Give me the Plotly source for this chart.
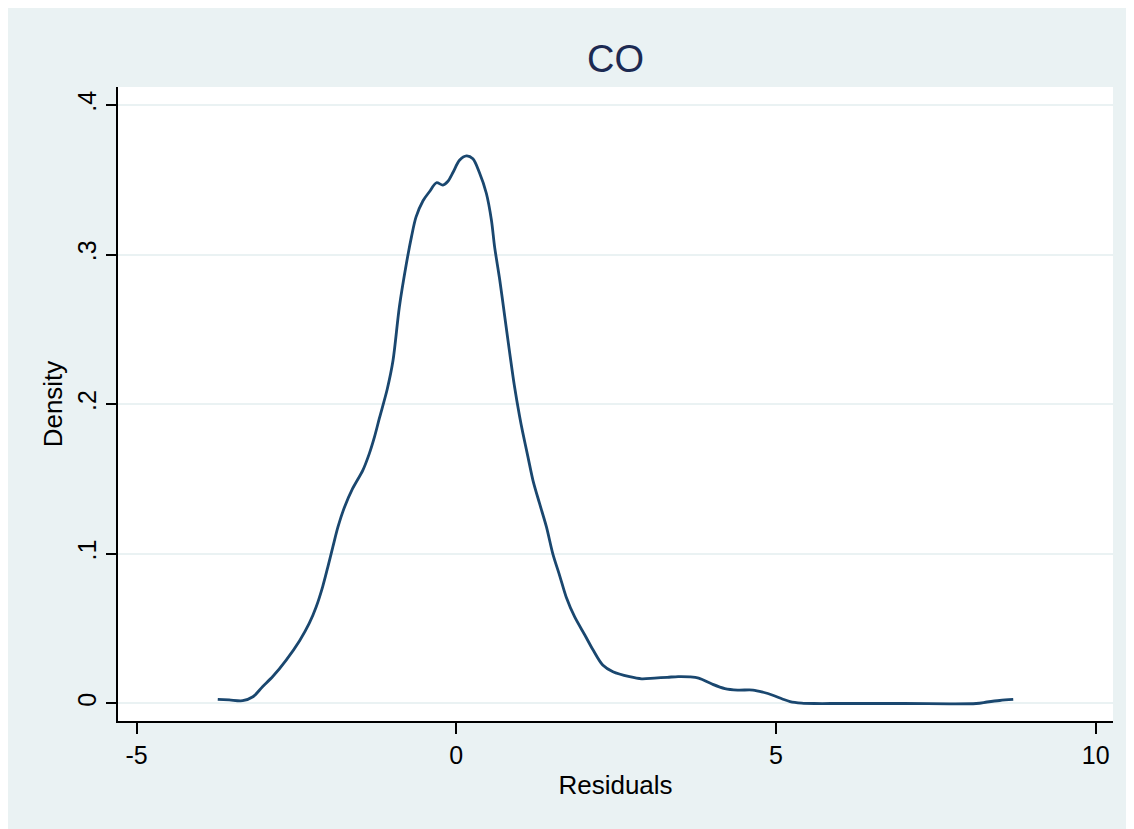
import plotly.graph_objects as go

# Kernel density of residuals
residuals = [-3.73, -3.55, -3.34, -3.18, -3.03, -2.87, -2.66, -2.45, -2.30, -2.19,
             -2.09, -2.01, -1.93, -1.85, -1.75, -1.62, -1.46, -1.36, -1.28, -1.20,
             -1.08, -0.99, -0.89, -0.78, -0.70, -0.63, -0.52, -0.42, -0.31, -0.21,
             -0.13, -0.05, 0.05, 0.16, 0.26, 0.36, 0.47, 0.55, 0.60, 0.68,
             0.76, 0.83, 0.91, 0.99, 1.04, 1.12, 1.20, 1.30, 1.41, 1.51,
             1.62, 1.72, 1.85, 2.01, 2.14, 2.29, 2.45, 2.71, 2.90, 3.10,
             3.30, 3.47, 3.65, 3.79, 4.00, 4.20, 4.40, 4.64, 4.80, 4.95,
             5.10, 5.22, 5.40, 5.60, 6.00, 7.00, 8.13, 8.30, 8.50, 8.71]
density = [0.0028, 0.0024, 0.0019, 0.0045, 0.0112, 0.018, 0.029, 0.042, 0.0535, 0.0647,
           0.078, 0.091, 0.1047, 0.118, 0.131, 0.1437, 0.156, 0.167, 0.178, 0.191,
           0.210, 0.229, 0.265, 0.294, 0.312, 0.325, 0.336, 0.342, 0.348, 0.3465,
           0.349, 0.355, 0.363, 0.366, 0.364, 0.355, 0.341, 0.323, 0.305, 0.283,
           0.258, 0.236, 0.212, 0.192, 0.181, 0.165, 0.149, 0.134, 0.118, 0.100,
           0.085, 0.071, 0.058, 0.0458, 0.0357, 0.0257, 0.0212, 0.0179, 0.0165, 0.017,
           0.0175, 0.018, 0.0178, 0.017, 0.013, 0.010, 0.009, 0.009, 0.0075, 0.0055,
           0.003, 0.0013, 0.0003, 0.0, 0.0, 0.0, 0.0, 0.001, 0.002, 0.0027]

x_ticks = [-5, 0, 5, 10]
x_tick_labels = ["-5", "0", "5", "10"]
y_ticks = [0, 0.1, 0.2, 0.3, 0.4]
y_tick_labels = ["0", ".1", ".2", ".3", ".4"]

BG = "#eaf2f3"
NAVY = "#1a476f"
FONT = "Liberation Sans, Arial, Helvetica, sans-serif"

# page body has an 8px margin, so the figure is drawn 8px in from the top-left
W, H = 1126, 821
L, R, T, B = 110, 1105, 79, 713

fig = go.Figure()
fig.add_trace(go.Scatter(
    x=residuals, y=density, mode="lines",
    line=dict(color=NAVY, width=2.8, shape="spline", smoothing=0.85),
    hoverinfo="x+y", showlegend=False,
))

fig.update_layout(
    width=W, height=H,
    margin=dict(l=L, r=W - R, t=T, b=H - B, pad=0),
    paper_bgcolor=BG, plot_bgcolor="white",
    font=dict(family=FONT, color="black", size=25),
    title=dict(text="CO", x=(L + R) / 2 / W, xref="container", xanchor="center",
               y=1 - 51 / H, yref="container", yanchor="middle",
               font=dict(family=FONT, size=38, color="#1c2a52")),
    showlegend=False,
)

fig.update_xaxes(
    range=[-5.29, 10.27], tickvals=x_ticks, ticktext=x_tick_labels,
    showgrid=False, zeroline=False,
    showline=True, linecolor="black", linewidth=1.5,
    ticks="outside", ticklen=11, tickwidth=1.5, tickcolor="black",
    tickfont=dict(size=25, family=FONT, color="black"),
    title=dict(text="Residuals", font=dict(size=26, family=FONT, color="black"), standoff=8),
)
fig.update_yaxes(
    range=[-0.0117, 0.412], tickvals=y_ticks, ticktext=y_tick_labels,
    showgrid=True, gridcolor=BG, gridwidth=2,
    zeroline=True, zerolinecolor=BG, zerolinewidth=2,
    showline=True, linecolor="black", linewidth=1.5,
    ticks="outside", ticklen=10, tickwidth=1.5, tickcolor="black",
    tickangle=-90,
    tickfont=dict(size=25, family=FONT, color="black"),
    title=dict(text="Density", font=dict(size=26, family=FONT, color="black"), standoff=3),
)

fig.write_html("out.html")
